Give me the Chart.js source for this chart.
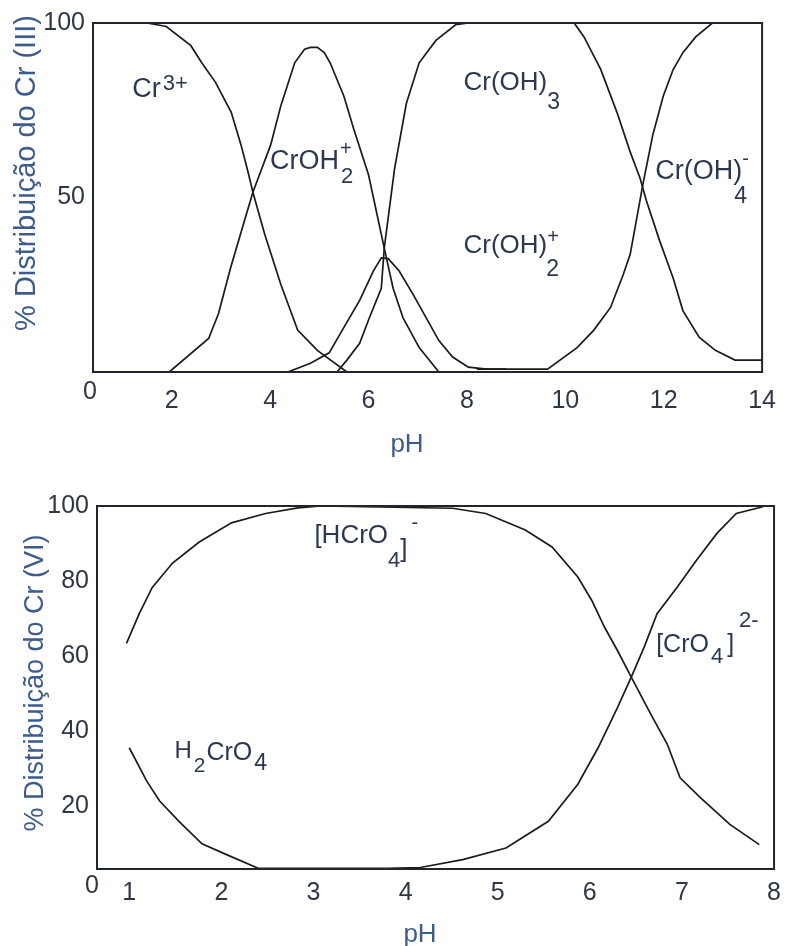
<!DOCTYPE html>
<html><head><meta charset="utf-8">
<script src="https://cdn.jsdelivr.net/npm/chart.js@4"></script>
<style>
html,body{margin:0;padding:0;background:#fff;width:790px;height:946px;overflow:hidden}
canvas{position:absolute;left:0}
#c1{top:0}
#c2{top:470px}
</style></head><body>
<canvas id="c1" width="790" height="470"></canvas>
<canvas id="c2" width="790" height="476"></canvas>
<script>
// ---------- Top chart: Cr(III) ----------
const topXTicks = [2, 4, 6, 8, 10, 12, 14];
const topYTicks = [50, 100];

const cr3_pH  = [0.4, 1.5, 1.89, 2.39, 2.61, 2.89, 3.21, 3.41, 3.55, 3.65, 3.89, 4.22, 4.56, 4.96, 5.56];
const cr3_pct = [100, 100, 99, 93.5, 88.6, 83, 74.4, 65, 57.4, 51.5, 39.5, 25, 12, 6.2, 0];

const crOH_pH  = [1.95, 2.75, 2.95, 3.2, 3.45, 3.65, 4.01, 4.22, 4.5, 4.7, 4.82, 4.96, 5.1, 5.22, 5.5, 5.7, 6.0, 6.32, 6.5, 6.7, 7.03, 7.43];
const crOH_pct = [0, 9.6, 16.7, 30, 42, 51.5, 65, 76.4, 88.6, 92.5, 93, 93, 91.5, 88.6, 79, 69.6, 56.5, 35.5, 24, 15.6, 7, 0];

const crOH2_pH  = [4.36, 4.82, 5.2, 5.5, 5.82, 6.1, 6.26, 6.4, 6.62, 6.9, 7.17, 7.43, 7.71, 8.03, 8.4, 8.8];
const crOH2_pct = [0, 2.5, 5.5, 12.8, 20.5, 29, 32.7, 32.5, 29, 22.4, 15.6, 9, 4.3, 1.4, 0.8, 0.8];

const crOH3_pH  = [5.36, 5.56, 5.82, 6.02, 6.26, 6.32, 6.53, 6.77, 7.03, 7.37, 7.77, 8.03, 10.18, 10.38, 10.72, 11.05, 11.32, 11.52, 11.65, 11.92, 12.19, 12.39, 12.72, 13.05, 13.45, 14];
const crOH3_pct = [0, 3.4, 8.2, 15.6, 24, 35.5, 58.3, 77, 88.6, 95, 99.5, 100, 100, 96, 86.7, 74.4, 63, 55.5, 49, 37.5, 27, 17.6, 10, 6.2, 3.4, 3.4];

const crOH4_pH  = [8.2, 9.64, 10.24, 10.58, 10.92, 11.18, 11.32, 11.58, 11.78, 11.99, 12.19, 12.39, 12.65, 12.99, 14];
const crOH4_pct = [0.8, 0.8, 7, 12, 18.5, 28, 33.8, 54, 68, 79, 86.6, 91.5, 96, 100, 100];

// ---------- Bottom chart: Cr(VI) ----------
const botXTicks = [1, 2, 3, 4, 5, 6, 7, 8];
const botYTicks = [20, 40, 60, 80, 100];

const hcro4_pH  = [0.97, 1.11, 1.25, 1.47, 1.76, 2.11, 2.48, 2.83, 3.08, 4.51, 4.87, 5.3, 5.59, 5.87, 6.02, 6.16, 6.3, 6.45, 6.66, 6.84, 6.98, 7.2, 7.52, 7.84];
const hcro4_pct = [63.4, 71.4, 78.3, 84.8, 90.4, 95.5, 98, 99.5, 100, 99.4, 98, 93.6, 89.1, 81.1, 74.9, 67.7, 61.5, 54.4, 44.6, 36.6, 27.6, 22.3, 15.2, 9.8];

const cro4_pH  = [3.8, 4.16, 4.62, 5.09, 5.55, 5.87, 6.09, 6.3, 6.45, 6.59, 6.73, 6.95, 7.16, 7.38, 7.59, 7.88];
const cro4_pct = [3.5, 3.7, 5.8, 8.9, 16, 25.9, 35.6, 46.3, 54.4, 62.4, 71.3, 78.4, 85.6, 92.7, 98, 99.8];

const h2cro4_pH  = [1.0, 1.19, 1.33, 1.54, 1.79, 2.05, 2.4, 3.8];
const h2cro4_pct = [35.6, 26.7, 21.4, 16, 10, 7.2, 3.5, 3.5];

// ---------- styling ----------
const FONT = '"Liberation Sans", Arial, sans-serif';
const LINE = '#1b1b1b';
const FRAME = '#20252e';
const TICK = '#2f3745';
const TITLE = '#3d5c8c';
const ANNO = '#2c3750';

function pts(xs, ys) { return xs.map((x, i) => ({ x: x, y: ys[i] })); }
function ds(xs, ys) {
  return { data: pts(xs, ys), borderColor: LINE, borderWidth: 1.7, pointRadius: 0, tension: 0, fill: false };
}

function drawRich(ctx, x, y, parts) {
  let cx = x;
  parts.forEach(p => {
    ctx.font = p.s + 'px ' + FONT;
    ctx.fillText(p.t, cx + (p.dx || 0), y + (p.dy || 0));
    if (!p.stay) cx += ctx.measureText(p.t).width + (p.dx || 0);
  });
}

function decorPlugin(opt) {
  return {
    id: 'decor',
    afterDatasetsDraw(chart) {
      const { ctx, chartArea: a, scales } = chart;
      ctx.save();
      ctx.strokeStyle = FRAME;
      ctx.lineWidth = 2;
      ctx.strokeRect(a.left, a.top, a.right - a.left, a.bottom - a.top);
      // corner zero
      ctx.fillStyle = TICK;
      ctx.font = opt.tickSize + 'px ' + FONT;
      ctx.textAlign = 'center';
      ctx.textBaseline = 'middle';
      ctx.fillText('0', a.left + opt.zero[0], a.bottom + opt.zero[1]);
      // axis titles
      ctx.fillStyle = TITLE;
      ctx.font = opt.xTitleSize + 'px ' + FONT;
      ctx.textBaseline = 'alphabetic';
      ctx.fillText('pH', opt.xTitle[0], opt.xTitle[1]);
      ctx.save();
      ctx.translate(opt.yTitle[0], opt.yTitle[1]);
      ctx.rotate(-Math.PI / 2);
      ctx.font = opt.yTitleSize + 'px ' + FONT;
      ctx.textBaseline = 'middle';
      ctx.fillText(opt.yTitleText, 0, 0);
      ctx.restore();
      // annotations
      ctx.fillStyle = ANNO;
      ctx.textAlign = 'left';
      ctx.textBaseline = 'alphabetic';
      opt.annos.forEach(an => {
        const px = scales.x.getPixelForValue(an.x);
        const py = scales.y.getPixelForValue(an.y);
        drawRich(ctx, px, py, an.parts);
      });
      ctx.restore();
    }
  };
}

function makeChart(id, cfg) {
  return new Chart(document.getElementById(id), {
    type: 'line',
    data: { datasets: cfg.datasets },
    options: {
      responsive: false,
      animation: false,
      devicePixelRatio: 1,
      layout: { padding: cfg.padding },
      plugins: { legend: { display: false }, tooltip: { enabled: false } },
      scales: {
        x: {
          type: 'linear', min: cfg.xMin, max: cfg.xMax,
          grid: { display: false, drawTicks: false },
          border: { display: false },
          ticks: { color: TICK, font: { family: FONT, size: cfg.tickSize }, padding: cfg.xPad, maxRotation: 0, autoSkip: false },
          afterBuildTicks: s => { s.ticks = cfg.xTicks.map(v => ({ value: v })); },
          afterFit: s => { s.height = cfg.xH; }
        },
        y: {
          type: 'linear', min: cfg.yMin, max: cfg.yMax,
          grid: { display: false, drawTicks: false },
          border: { display: false },
          ticks: { color: TICK, font: { family: FONT, size: cfg.tickSize }, padding: cfg.yPad, autoSkip: false },
          afterBuildTicks: s => { s.ticks = cfg.yTicks.map(v => ({ value: v })); },
          afterFit: s => { s.width = cfg.yW; }
        }
      }
    },
    plugins: [decorPlugin(cfg.decor)]
  });
}

makeChart('c1', {
  datasets: [ds(cr3_pH, cr3_pct), ds(crOH_pH, crOH_pct), ds(crOH2_pH, crOH2_pct), ds(crOH3_pH, crOH3_pct), ds(crOH4_pH, crOH4_pct)],
  padding: { top: 20, right: 20, left: 0, bottom: 0 },
  xMin: 0.4, xMax: 14, yMin: 0, yMax: 100,
  xTicks: topXTicks, yTicks: topYTicks,
  tickSize: 25, xPad: 14, yPad: 8, xH: 98, yW: 93,
  decor: {
    tickSize: 25, zero: [-3, 20],
    xTitle: [407, 452], xTitleSize: 26,
    yTitle: [27, 173], yTitleSize: 29, yTitleText: '% Distribuição do Cr (III)',
    annos: [
      { x: 1.2, y: 78.7, parts: [{ t: 'Cr', s: 27 }, { t: '3+', s: 22, dy: -7, dx: 2 }] },
      { x: 4.0, y: 58.2, parts: [{ t: 'CrOH', s: 27 }, { t: '+', s: 20, dy: -14, dx: 1, stay: true }, { t: '2', s: 22, dy: 14, dx: 2 }] },
      { x: 7.93, y: 80.7, parts: [{ t: 'Cr(OH)', s: 26 }, { t: '3', s: 23, dy: 19, dx: 0 }] },
      { x: 7.93, y: 34.1, parts: [{ t: 'Cr(OH)', s: 26 }, { t: '+', s: 20, dy: -10, dx: 0, stay: true }, { t: '2', s: 23, dy: 23, dx: -1 }] },
      { x: 11.83, y: 55.4, parts: [{ t: 'Cr(OH)', s: 27 }, { t: '-', s: 20, dy: -14, dx: 0, stay: true }, { t: '4', s: 23, dy: 24, dx: -8 }] }
    ]
  }
});

makeChart('c2', {
  datasets: [ds(hcro4_pH, hcro4_pct), ds(cro4_pH, cro4_pct), ds(h2cro4_pH, h2cro4_pct)],
  padding: { top: 36, right: 9, left: 0, bottom: 0 },
  xMin: 0.65, xMax: 8, yMin: 3.3, yMax: 100,
  xTicks: botXTicks, yTicks: botYTicks,
  tickSize: 25, xPad: 9, yPad: 8, xH: 77, yW: 97,
  decor: {
    tickSize: 25, zero: [-5, 17],
    xTitle: [420, 472], xTitleSize: 26,
    yTitle: [36, 213], yTitleSize: 27, yTitleText: '% Distribuição do Cr (VI)',
    annos: [
      { x: 3.01, y: 90.1, parts: [{ t: '[HCrO', s: 26 }, { t: '4', s: 22, dy: 24, dx: 0 }, { t: ']', s: 26, dy: 14, dx: 0 }, { t: '-', s: 20, dy: -14, dx: 4 }] },
      { x: 1.49, y: 32.9, parts: [{ t: 'H', s: 24 }, { t: '2', s: 21, dy: 14, dx: 2 }, { t: 'CrO', s: 25, dy: 2, dx: 1 }, { t: '4', s: 23, dy: 12, dx: 2 }] },
      { x: 6.72, y: 61.1, parts: [{ t: '[CrO', s: 25 }, { t: '4', s: 22, dy: 11, dx: 2 }, { t: ']', s: 25, dy: 0, dx: 4 }, { t: '2-', s: 22, dy: -25, dx: 5 }] }
    ]
  }
});
</script>
</body></html>
